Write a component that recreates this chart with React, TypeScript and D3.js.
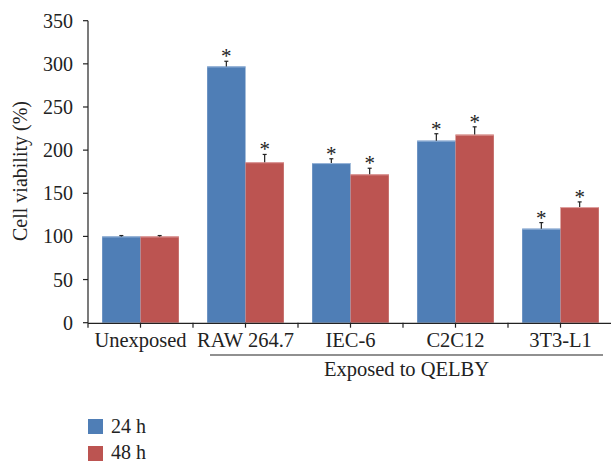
import React from "react";
import * as d3 from "d3";

const categories = ["Unexposed", "RAW 264.7", "IEC-6", "C2C12", "3T3-L1"];
const series = ["24 h", "48 h"];
const values24 = [100, 297, 185, 211, 109];
const values48 = [100, 186, 172, 218, 134];
const err24 = [1, 6, 5, 8, 7];
const err48 = [1, 9, 7, 9, 6];
const significant24 = [false, true, true, true, true];
const significant48 = [false, true, true, true, true];
const yTicks = [0, 50, 100, 150, 200, 250, 300, 350];
const colors = ["#4F7EB6", "#BC5451"];

const W = 611;
const H = 463;
const FONT = "'Liberation Serif', 'Times New Roman', serif";

export default function App() {
  const x0 = 88;
  const x1 = 613;
  const y = d3.scaleLinear().domain([0, 350]).range([322.7, 20.7]);
  const xBand = d3.scaleBand<string>().domain(categories).range([x0, x1]).paddingInner(0).paddingOuter(0);
  const xSub = d3.scaleBand<string>().domain(series).range([0, xBand.bandwidth()]).paddingInner(0).paddingOuter(0.37);
  const data = [values24, values48];
  const errs = [err24, err48];
  const sig = [significant24, significant48];
  const halfTicks = d3.range(0, categories.length * 2 + 1).map((i) => x0 + (i * xBand.bandwidth()) / 2);
  const exposedStart = (xBand("RAW 264.7") as number) + 17;
  const exposedEnd = 603;
  return (
    <svg width={W} height={H} style={{ position: "absolute", left: 0, top: 0, background: "#fff" }} fontFamily={FONT}>
      {/* bars */}
      {categories.map((c, i) =>
        series.map((s, k) => {
          const bx = (xBand(c) as number) + (xSub(s) as number);
          const bw = xSub.bandwidth();
          const v = data[k][i];
          const top = y(v);
          const eTop = y(v + errs[k][i]);
          const cx = bx + bw / 2;
          return (
            <g key={c + s}>
              <rect x={bx} y={top} width={bw} height={y(0) - top} fill={colors[k]} />
              <line x1={bx} x2={bx + bw} y1={top + 0.5} y2={top + 0.5} stroke={k === 0 ? "#9bb7da" : "#e0a3a2"} strokeWidth={1} />
              <line x1={cx} x2={cx} y1={top} y2={eTop} stroke="#222" strokeWidth={1.2} />
              <line x1={cx - 2} x2={cx + 2} y1={eTop} y2={eTop} stroke="#222" strokeWidth={1.2} />
              {sig[k][i] && (
                <text x={cx} y={eTop + 2} textAnchor="middle" fontSize={21} fill="#222">
                  *
                </text>
              )}
            </g>
          );
        })
      )}
      {/* y axis */}
      <line x1={x0} x2={x0} y1={y(350)} y2={y(0)} stroke="#222" strokeWidth={1.2} />
      {yTicks.map((t) => (
        <g key={t}>
          <line x1={x0 - 5} x2={x0} y1={y(t)} y2={y(t)} stroke="#222" strokeWidth={1.2} />
          <text x={x0 - 15} y={y(t)} dy="0.35em" textAnchor="end" fontSize={20} fill="#222">
            {t}
          </text>
        </g>
      ))}
      {/* x axis */}
      <line x1={x0} x2={W} y1={y(0) + 0.6} y2={y(0) + 0.6} stroke="#222" strokeWidth={1.2} />
      {halfTicks.map((t, i) => (
        <line key={i} x1={t} x2={t} y1={y(0)} y2={y(0) + 5} stroke="#222" strokeWidth={1.2} />
      ))}
      {categories.map((c) => (
        <text key={c} x={(xBand(c) as number) + xBand.bandwidth() / 2} y={347} textAnchor="middle" fontSize={20.5} fill="#222">
          {c}
        </text>
      ))}
      <line x1={exposedStart} x2={exposedEnd} y1={355} y2={355} stroke="#222" strokeWidth={1.2} />
      <text x={(exposedStart + exposedEnd) / 2} y={376} textAnchor="middle" fontSize={20.5} fill="#222">
        Exposed to QELBY
      </text>
      {/* y label */}
      <text transform={`translate(27, 171) rotate(-90)`} textAnchor="middle" fontSize={20} fill="#222">
        Cell viability (%)
      </text>
      {/* legend */}
      {series.map((s, k) => (
        <g key={s}>
          <rect x={88} y={419 + k * 27} width={15} height={15} fill={colors[k]} />
          <text x={111} y={433 + k * 25.5} fontSize={20} fill="#222">
            {s}
          </text>
        </g>
      ))}
    </svg>
  );
}
